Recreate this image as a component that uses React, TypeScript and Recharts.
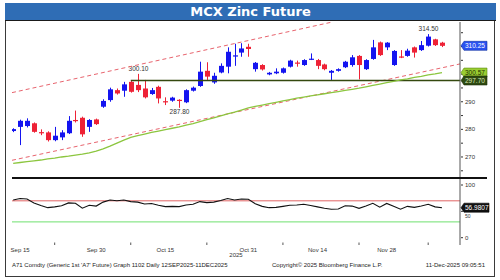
import React from 'react';
import { ComposedChart, Bar, Line, XAxis, YAxis, ReferenceLine } from 'recharts';

// ---------- data ----------
const dates = [
  'Sep 12','Sep 15','Sep 16','Sep 17','Sep 18','Sep 19','Sep 22','Sep 23','Sep 24','Sep 25','Sep 26','Sep 29','Sep 30',
  'Oct 1','Oct 3','Oct 6','Oct 7','Oct 8','Oct 9','Oct 10','Oct 13','Oct 14','Oct 15','Oct 16','Oct 17','Oct 20','Oct 21',
  'Oct 22','Oct 23','Oct 24','Oct 27','Oct 28','Oct 29','Oct 30','Oct 31','Nov 3','Nov 4','Nov 5','Nov 6','Nov 7','Nov 10',
  'Nov 11','Nov 12','Nov 13','Nov 14','Nov 17','Nov 18','Nov 19','Nov 20','Nov 21','Nov 24','Nov 25','Nov 26','Nov 27',
  'Nov 28','Dec 1','Dec 2','Dec 3','Dec 4','Dec 5','Dec 8','Dec 9','Dec 10',
];
const opens = [
  279.4, 280.9, 281.2, 282.2, 279.0, 278.9, 276.1, 277.1, 278.6, 283.4, 284.2, 280.9, 283.6,
  288.2, 290.6, 294.2, 294.0, 297.2, 296.1, 294.8, 292.8, 295.4, 290.2, 290.4, 290.7, 289.8, 294.0,
  295.7, 301.2, 297.0, 300.6, 302.7, 306.4, 307.8, 309.9, 301.8, 303.3, 299.9, 300.3, 300.5, 302.7,
  304.2, 303.3, 305.3, 305.1, 303.5, 300.5, 301.2, 302.5, 303.3, 306.6, 301.8, 305.5, 311.5,
  309.7, 303.3, 306.4, 306.6, 309.7, 308.7, 310.3, 312.6, 311.4,
];
const highs = [
  280.4, 283.5, 284.0, 282.5, 280.0, 279.3, 280.9, 279.7, 284.8, 286.8, 284.6, 283.7, 283.9,
  290.9, 295.1, 294.8, 297.2, 297.5, 300.1, 297.9, 295.0, 295.8, 291.6, 291.8, 290.9, 294.5, 295.5,
  304.5, 304.3, 300.5, 303.9, 309.7, 311.0, 311.2, 311.0, 304.4, 303.6, 300.8, 302.1, 302.4, 305.2,
  304.9, 305.4, 307.5, 305.5, 303.8, 301.5, 302.1, 304.8, 306.9, 306.9, 305.4, 312.4, 311.8,
  311.6, 308.7, 308.7, 309.2, 310.0, 312.0, 314.5, 312.8, 311.7,
];
const lows = [
  279.0, 274.3, 280.7, 278.8, 277.9, 275.6, 275.7, 276.1, 278.3, 282.5, 277.3, 279.1, 281.6,
  287.8, 290.0, 292.6, 291.8, 293.3, 293.5, 291.2, 292.5, 289.4, 288.8, 290.0, 287.8, 289.5, 293.7,
  295.4, 297.9, 296.5, 300.3, 300.3, 303.0, 306.3, 306.3, 300.9, 301.3, 299.6, 300.0, 300.2, 302.4,
  302.7, 303.0, 305.1, 301.8, 301.4, 297.9, 300.9, 302.2, 302.7, 298.1, 301.5, 305.2, 306.6,
  308.7, 303.0, 305.8, 306.3, 306.0, 308.4, 310.0, 310.2, 309.8,
];
const closes = [
  280.1, 283.1, 283.1, 279.1, 278.7, 276.1, 277.7, 278.9, 283.1, 283.1, 278.2, 283.4, 281.9,
  290.3, 294.5, 293.0, 296.3, 293.6, 294.2, 291.6, 294.2, 291.2, 289.9, 291.5, 290.3, 294.2, 295.1,
  300.9, 299.1, 299.4, 303.0, 308.1, 306.8, 309.3, 309.1, 304.1, 301.7, 300.5, 300.9, 302.1, 304.9,
  304.0, 305.1, 305.6, 303.0, 301.8, 301.2, 301.8, 304.5, 306.1, 303.3, 305.1, 309.7, 306.9,
  311.4, 308.4, 306.2, 308.5, 307.8, 310.5, 313.6, 310.5, 310.25,
];
const movingAvg = [
  267.7, 268.0, 268.3, 268.6, 268.9, 269.3, 269.6, 270.0, 270.3, 270.7, 271.0, 271.5, 272.1,
  272.9, 273.9, 275.0, 276.1, 277.1, 277.7, 278.3, 278.9, 279.4, 279.9, 280.4, 280.9, 281.5, 282.1,
  282.8, 283.5, 284.2, 284.9, 285.6, 286.2, 287.0, 287.8, 288.3, 288.8, 289.3, 289.8, 290.3, 290.8,
  291.3, 291.7, 292.1, 292.5, 292.9, 293.3, 293.7, 294.1, 294.5, 294.9, 295.4, 295.9, 296.4,
  296.9, 297.4, 297.9, 298.3, 298.8, 299.2, 299.7, 300.1, 300.57,
];
const rsi = [
  71.5, 74.5, 73.5, 66.0, 61.0, 57.0, 58.5, 60.5, 66.0, 65.5, 56.0, 61.5, 60.0,
  67.5, 71.5, 70.2, 71.5, 68.5, 67.5, 64.0, 65.0, 61.5, 59.0, 59.5, 59.0, 62.0, 63.5,
  68.5, 66.5, 67.5, 70.5, 74.5, 71.5, 73.5, 73.0, 64.5, 59.5, 57.0, 57.5, 59.5, 61.5,
  62.0, 63.5, 61.0, 58.5, 56.0, 53.9, 54.5, 60.5, 60.0, 55.8, 60.0, 65.3, 58.0,
  65.0, 59.5, 54.0, 59.5, 57.5, 60.0, 63.5, 58.5, 56.98,
];

// trend channel endpoints: [bar index, price]
const upperChannel = [[-0.17, 293.3], [46.0, 318.8]];
const lowerChannel = [[-0.17, 268.8], [64.6, 303.7]];
const supportStart = 'Oct 8';
const supportLevel = 297.70;

const highlights = [
  { date: 'Oct 9', text: '300.10', side: 'high' },
  { date: 'Oct 17', text: '287.80', side: 'low' },
  { date: 'Dec 8', text: '314.50', side: 'high' },
];

const priceTickValues = [265, 270, 275, 280, 285, 290, 295, 300, 305, 310, 315];
const priceTickLabels = [270, 280, 290];
const priceTags = [
  { value: 310.25, text: '310.25', kind: 'last' },
  { value: 300.57, text: '300.57', kind: 'ma' },
  { value: 297.70, text: '297.70', kind: 'support' },
];
const rsiTickLabels = [0, 50, 100];
const rsiTag = { value: 56.98, text: '56.9807' };
const rsiUpper = 70;
const rsiLower = 30;

const xLabelDates = ['Sep 15', 'Sep 30', 'Oct 15', 'Oct 31', 'Nov 14', 'Nov 28'];
const xMarkDates = ['Sep 22', 'Oct 8', 'Oct 23', 'Nov 7', 'Nov 24', 'Dec 8'];

const title = 'MCX Zinc Future';
const yearLabel = '2025';
const footerLeft = "A71 Comdty (Generic 1st 'A7' Future) Graph 1102 Daily 12SEP2025-11DEC2025";
const footerMid = 'Copyright\u00A9 2025 Bloomberg Finance L.P.';
const footerRight = '11-Dec-2025 09:05:51';

// ---------- styles ----------
const UP = '#1414f0';
const DOWN = '#ee2236';
const FONT = '"Liberation Sans", Arial, sans-serif';
const tagStyle: Record<string, { bg: string; fg: string; border: string }> = {
  last: { bg: '#2a52f0', fg: '#ffffff', border: '#1030a0' },
  ma: { bg: '#9acd32', fg: '#1a3300', border: '#5a8a10' },
  support: { bg: '#2f4a12', fg: '#d8e8b8', border: '#1c2e08' },
  rsi: { bg: '#111111', fg: '#ffffff', border: '#000000' },
};

const data = dates.map((d, i) => ({
  i,
  date: d,
  o: opens[i],
  h: highs[i],
  l: lows[i],
  c: closes[i],
  ma: movingAvg[i],
  rsi: rsi[i],
}));

const X_DOMAIN: [number, number] = [-0.17, 64.6];
const idxOf = (d: string) => dates.indexOf(d);

const Candle = (props: any) => {
  const { x, y, width, height } = props;
  const p = props.payload || props;
  if (x == null || y == null || !p) return null;
  const { o, h, l, c } = p;
  const top = Math.min(y, y + height);
  const hgt = Math.abs(height);
  const toY = (v: number) => (h === l ? top : top + ((h - v) / (h - l)) * hgt);
  const color = c >= o ? UP : DOWN;
  const cx = Math.round(x + width / 2) + 0.5;
  const bTop = toY(Math.max(o, c));
  const bBot = toY(Math.min(o, c));
  const hl = highlights.find((a) => a.date === p.date);
  return (
    <g>
      <line x1={cx} x2={cx} y1={top} y2={top + hgt} stroke={color} strokeWidth={1} />
      <rect x={cx - 2.5} y={bTop} width={5} height={Math.max(1.2, bBot - bTop)} fill={color} />
      {hl && (
        <text
          x={cx}
          y={hl.side === 'high' ? top - 3 : top + hgt + 6.5}
          textAnchor="middle"
          fontSize={6.5}
          fontFamily={FONT}
          fill="#333"
        >
          {hl.text}
        </text>
      )}
    </g>
  );
};

const Tag = ({ x, y, text, kind, w = 26 }: any) => {
  const s = tagStyle[kind];
  const x0 = x + 1;
  const pts = `${x0},${y} ${x0 + 3},${y - 4.5} ${x0 + w},${y - 4.5} ${x0 + w},${y + 4.5} ${x0 + 3},${y + 4.5}`;
  return (
    <g>
      <polygon points={pts} fill={s.bg} stroke={s.border} strokeWidth={0.6} />
      <text x={x0 + 4} y={y} dy="0.35em" fontSize={6.5} fontFamily={FONT} fill={s.fg}>
        {text}
      </text>
    </g>
  );
};

const PriceTick = (props: any) => {
  const { x, y, payload } = props;
  const v = payload.value;
  const tag = priceTags.find((t) => Math.abs(t.value - v) < 1e-6);
  if (tag) return <Tag x={x} y={y} text={tag.text} kind={tag.kind} />;
  return (
    <g>
      <line x1={x + 1} x2={x + 3} y1={y} y2={y} stroke="#333" strokeWidth={1} />
      {priceTickLabels.includes(v) && (
        <text x={x + 5} y={y} dy="0.35em" fontSize={6} fontFamily={FONT} fill="#333">
          {v}
        </text>
      )}
    </g>
  );
};

const RsiTick = (props: any) => {
  const { x, y, payload } = props;
  const v = payload.value;
  if (Math.abs(v - rsiTag.value) < 1e-6) return <Tag x={x} y={y} text={rsiTag.text} kind="rsi" w={28} />;
  // the mid label sits just under the last-value tag, as in the reference
  const nearTag = Math.abs(v - rsiTag.value) < 10;
  return (
    <g>
      <line x1={x + 1} x2={x + 3} y1={y} y2={y} stroke="#333" strokeWidth={1} />
      <text
        x={x + 5}
        y={y}
        dy={nearTag ? 6.2 : 2.1}
        fontSize={nearTag ? 5 : 6}
        fontFamily={FONT}
        fill="#333"
      >
        {v}
      </text>
    </g>
  );
};

const DateTick = (props: any) => {
  const { x, y, payload } = props;
  const d = dates[payload.value];
  if (xLabelDates.includes(d)) {
    return (
      <text x={x} y={y} dy={7} textAnchor="middle" fontSize={6} fontFamily={FONT} fill="#333">
        {d}
      </text>
    );
  }
  return <line x1={x} x2={x} y1={y - 2.5} y2={y} stroke="#555" strokeWidth={1} />;
};

const xTicks = [...xLabelDates, ...xMarkDates].map(idxOf).filter((v) => v >= 0);

export default function App() {
  const supportIdx = idxOf(supportStart);
  return (
    <div
      style={{
        position: 'absolute',
        left: 0,
        top: 0,
        width: 500,
        height: 280,
        background: '#fff',
        fontFamily: FONT,
        overflow: 'hidden',
      }}
    >
      {/* frame */}
      <div
        style={{
          position: 'absolute',
          left: 5,
          top: 3,
          width: 488,
          height: 272,
          border: '1.5px solid #3a3a3a',
        }}
      />
      {/* title bar */}
      <div
        style={{
          position: 'absolute',
          left: 5,
          top: 3,
          width: 491,
          height: 17,
          background: '#2f6db5',
          borderBottom: '1.5px solid #1a1a1a',
          color: '#fff',
          fontFamily: '"DejaVu Sans", sans-serif',
          fontWeight: 'bold',
          fontSize: 13,
          lineHeight: '17px',
          textAlign: 'center',
        }}
      >
        {title}
      </div>

      {/* price panel */}
      <div style={{ position: 'absolute', left: 0, top: 0 }}>
        <ComposedChart width={500} height={280} data={data} margin={{ top: 22, right: 0, bottom: 103, left: 12 }}>
          <XAxis type="number" dataKey="i" domain={X_DOMAIN} hide allowDataOverflow />
          <YAxis
            orientation="right"
            width={40}
            domain={[262.75, 318.88]}
            allowDataOverflow
            ticks={[...priceTickValues, ...priceTags.map((t) => t.value)]}
            interval={0}
            tick={<PriceTick />}
            tickLine={false}
            tickSize={0}
            tickMargin={0}
            axisLine={{ stroke: '#555', strokeWidth: 1 }}
          />
          <ReferenceLine
            segment={[{ x: upperChannel[0][0], y: upperChannel[0][1] }, { x: upperChannel[1][0], y: upperChannel[1][1] }]}
            stroke="#e8646e"
            strokeDasharray="4 3"
            strokeWidth={1}
          />
          <ReferenceLine
            segment={[{ x: lowerChannel[0][0], y: lowerChannel[0][1] }, { x: lowerChannel[1][0], y: lowerChannel[1][1] }]}
            stroke="#e8646e"
            strokeDasharray="4 3"
            strokeWidth={1}
          />
          <ReferenceLine
            segment={[{ x: supportIdx, y: supportLevel }, { x: X_DOMAIN[1], y: supportLevel }]}
            stroke="#34480f"
            strokeWidth={1.5}
          />
          <Line
            type="linear"
            dataKey="ma"
            stroke="#8cc63f"
            strokeWidth={1.3}
            dot={false}
            isAnimationActive={false}
          />
          <Bar
            dataKey={(d: any) => [d.l, d.h]}
            barSize={5}
            shape={<Candle />}
            isAnimationActive={false}
          />
        </ComposedChart>
      </div>

      {/* separator */}
      <div style={{ position: 'absolute', left: 12, top: 176.5, width: 475, height: 2, background: '#111' }} />

      {/* RSI panel */}
      <div style={{ position: 'absolute', left: 0, top: 0 }}>
        <ComposedChart width={500} height={280} data={data} margin={{ top: 179, right: 0, bottom: 0, left: 12 }}>
          <XAxis
            type="number"
            dataKey="i"
            domain={X_DOMAIN}
            allowDataOverflow
            ticks={xTicks}
            interval={0}
            height={35}
            tick={<DateTick />}
            tickLine={false}
            tickSize={0}
            tickMargin={0}
            axisLine={false}
          />
          <YAxis
            orientation="right"
            width={40}
            domain={[-13.85, 111.4]}
            allowDataOverflow
            ticks={[...rsiTickLabels, rsiTag.value]}
            interval={0}
            tick={<RsiTick />}
            tickLine={false}
            tickSize={0}
            tickMargin={0}
            axisLine={{ stroke: '#555', strokeWidth: 1 }}
          />
          <ReferenceLine y={rsiUpper} stroke="#e06464" strokeWidth={1} />
          <ReferenceLine y={rsiLower} stroke="#6ee06e" strokeWidth={1} />
          <Line type="linear" dataKey="rsi" stroke="#111" strokeWidth={1.1} dot={false} isAnimationActive={false} />
        </ComposedChart>
      </div>

      {/* year + footer */}
      <div style={{ position: 'absolute', left: 216, top: 252, width: 40, textAlign: 'center', fontSize: 6, color: '#333' }}>
        {yearLabel}
      </div>
      <div style={{ position: 'absolute', left: 12, top: 262, fontSize: 6, color: '#222', whiteSpace: 'nowrap' }}>
        {footerLeft}
      </div>
      <div style={{ position: 'absolute', left: 272, top: 262, fontSize: 6, color: '#222', whiteSpace: 'nowrap' }}>
        {footerMid}
      </div>
      <div style={{ position: 'absolute', right: 15, top: 262, fontSize: 6, color: '#222', whiteSpace: 'nowrap' }}>
        {footerRight}
      </div>
    </div>
  );
}
